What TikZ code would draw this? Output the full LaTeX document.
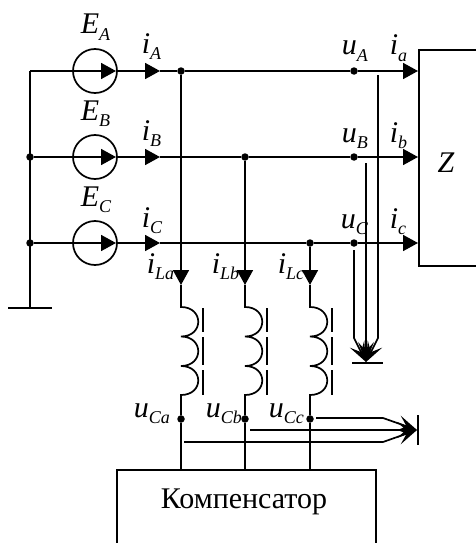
\documentclass[tikz,border=0pt]{standalone}
\usepackage{fontspec}
\setmainfont{Liberation Serif}
\usetikzlibrary{arrows.meta}

\newcommand{\sym}[2]{\textit{#1\raisebox{-0.22em}{\fontsize{18}{19}\selectfont #2}}}

\tikzset{
    dot/.style={circle,fill=black,inner sep=0pt,outer sep=0pt,minimum size=7.5pt},
    source/.style={circle,draw,inner sep=0pt,minimum size=44pt},
    lbl/.style={anchor=base west,inner sep=0pt,font=\fontsize{30}{32}\selectfont},
    block/.style={draw,inner sep=0pt,anchor=north west}
}

\begin{document}
\begin{tikzpicture}[x=1pt,y=-1pt,line width=1.7pt,->,
        >={Triangle[length=15pt,width=16pt]}]
    \useasboundingbox (0,0) rectangle (475,543);

    \node[block,minimum width=100pt,minimum height=216pt] (Z) at (418,49) {};
    \node[block,minimum width=259pt,minimum height=100pt] (K) at (116,469) {};
    \node[lbl,anchor=base] (Ztext) at (446,172) {\textit{Z}};
    \node[lbl,anchor=base] (Ktext) at (244,508) {Компенсатор};

    \node[source] (EA) at (95,71) {};
    \node[source] (EB) at (95,157) {};
    \node[source] (EC) at (95,243) {};

    \coordinate (corner) at (30,71);
    \coordinate (earth) at (30,308);
    \coordinate (earthL) at (8,308);
    \coordinate (earthR) at (52,308);
    \node[dot] (nB) at (30,157) {};
    \node[dot] (nC) at (30,243) {};

    \coordinate (tEA) at (116,71);
    \coordinate (tEB) at (116,157);
    \coordinate (tEC) at (116,243);
    \coordinate (tiA) at (160,71);
    \coordinate (tiB) at (160,157);
    \coordinate (tiC) at (160,243);
    \coordinate (ia) at (418,71);
    \coordinate (ib) at (418,157);
    \coordinate (ic) at (418,243);

    \node[dot] (ja) at (181,71) {};
    \node[dot] (jb) at (245,157) {};
    \node[dot] (jc) at (310,243) {};
    \node[dot] (uA) at (354,71) {};
    \node[dot] (uB) at (354,157) {};
    \node[dot] (uC) at (354,243) {};
    \node[dot] (uCa) at (181,419) {};
    \node[dot] (uCb) at (245,419) {};
    \node[dot] (uCc) at (310,419) {};

    \coordinate (tLa) at (181,285);
    \coordinate (tLb) at (245,285);
    \coordinate (tLc) at (310,285);
    \coordinate (Ka) at (181,469);
    \coordinate (Kb) at (245,469);
    \coordinate (Kc) at (310,469);

    \path (corner) edge[-] (earth)
          (earthL) edge[-] (earthR)
          (corner) edge (tEA)
          (nB) edge (tEB)
          (nC) edge (tEC)
          (tEA) edge (tiA)
          (tEB) edge (tiB)
          (tEC) edge (tiC)
          (tiA) edge[-] (ja)
          (ja) edge[-] (uA)
          (uA) edge (ia)
          (tiB) edge[-] (jb)
          (jb) edge[-] (uB)
          (uB) edge (ib)
          (tiC) edge[-] (jc)
          (jc) edge[-] (uC)
          (uC) edge (ic)
          (ja) edge (tLa)
          (jb) edge (tLb)
          (jc) edge (tLc)
          (uCa) edge[-] (Ka)
          (uCb) edge[-] (Kb)
          (uCc) edge[-] (Kc);

    \foreach \p/\x in {a/181,b/245,c/310} {
        \draw[-] (tL\p) -- (\x,307)
            .. controls (\x+23,307) and (\x+23,336.5) .. (\x,336.5)
            .. controls (\x+23,336.5) and (\x+23,366) .. (\x,366)
            .. controls (\x+23,366) and (\x+23,395) .. (\x,395)
            -- (uC\p);
        \draw[-] (\x+22,308) -- (\x+22,332);
        \draw[-] (\x+22,337) -- (\x+22,365);
        \draw[-] (\x+22,370) -- (\x+22,395);
    }

    \coordinate (sumV) at (366,362);
    \coordinate (sumVL) at (352,363);
    \coordinate (sumVR) at (383,363);
    \coordinate (sumH) at (417,430);
    \coordinate (sumHT) at (418,415);
    \coordinate (sumHB) at (418,445);
    \draw[-] (sumVL) -- (sumVR);
    \draw[-] (sumHT) -- (sumHB);

    \begin{scope}[>={Stealth[length=20pt,width=16pt,inset=9pt]}]
        \draw (354,250) -- (354,338) -- (sumV);
        \draw (366,163) -- (sumV);
        \draw (378,75) -- (378,338) -- (sumV);
        \draw (316,418) -- (383,418) -- (sumH);
        \draw (250,430) -- (sumH);
        \draw (184,442) -- (383,442) -- (sumH);
    \end{scope}

    \node[lbl] (lEA) at (80,34) {\sym{E}{A}};
    \node[lbl] (lEB) at (80,120) {\sym{E}{B}};
    \node[lbl] (lEC) at (80,206) {\sym{E}{C}};
    \node[lbl] (liA) at (141,53) {\sym{i}{A}};
    \node[lbl] (liB) at (141,140) {\sym{i}{B}};
    \node[lbl] (liC) at (141,227) {\sym{i}{C}};
    \node[lbl] (luA) at (341,55) {\sym{u}{A}};
    \node[lbl] (luB) at (341,142) {\sym{u}{B}};
    \node[lbl] (luC) at (340,228) {\sym{u}{C}};
    \node[lbl] (lia) at (389,55) {\sym{i}{a}};
    \node[lbl] (lib) at (389,142) {\sym{i}{b}};
    \node[lbl] (lic) at (389,228) {\sym{i}{c}};
    \node[lbl] (liLa) at (146,273) {\sym{i}{La}};
    \node[lbl] (liLb) at (211,273) {\sym{i}{Lb}};
    \node[lbl] (liLc) at (277,273) {\sym{i}{Lc}};
    \node[lbl] (luCa) at (133,417) {\sym{u}{Ca}};
    \node[lbl] (luCb) at (205,417) {\sym{u}{Cb}};
    \node[lbl] (luCc) at (268,417) {\sym{u}{Cc}};
\end{tikzpicture}
\end{document}
